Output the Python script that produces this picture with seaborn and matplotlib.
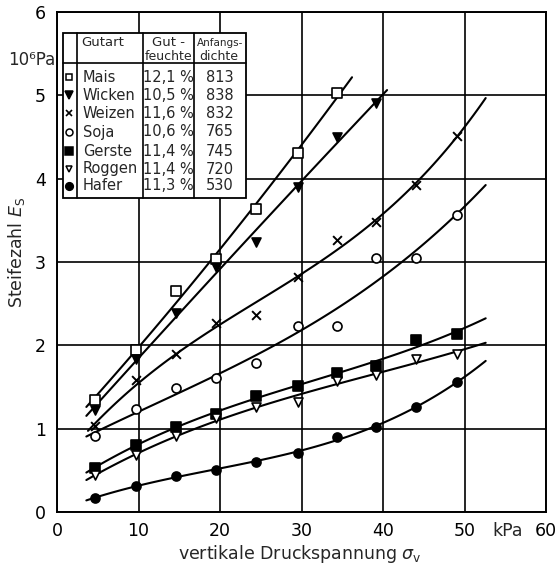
import numpy as np
import pandas as pd
import seaborn as sns
import matplotlib
matplotlib.use("Agg")
import matplotlib.pyplot as plt
from matplotlib.patches import Rectangle

# ---- data ----
sigma = [4.7, 9.7, 14.6, 19.5, 24.4, 29.6, 34.4, 39.1, 44.1, 49.1]
mais = [1.34, 1.94, 2.65, 3.04, 3.64, 4.31, 5.03]
wicken = [1.23, 1.84, 2.39, 2.94, 3.24, 3.90, 4.50, 4.91]
weizen = [1.03, 1.58, 1.90, 2.27, 2.37, 2.82, 3.27, 3.48, 3.93, 4.51]
soja = [0.91, 1.24, 1.49, 1.61, 1.79, 2.23, 2.23, 3.05, 3.05, 3.57]
gerste = [0.53, 0.81, 1.02, 1.18, 1.39, 1.51, 1.67, 1.75, 2.06, 2.14]
roggen = [0.44, 0.69, 0.91, 1.13, 1.26, 1.32, 1.57, 1.65, 1.84, 1.90]
hafer = [0.17, 0.31, 0.43, 0.51, 0.60, 0.71, 0.90, 1.02, 1.26, 1.56]

names = ["Mais", "Wicken", "Weizen", "Soja", "Gerste", "Roggen", "Hafer"]
feuchte = ["12,1 %", "10,5 %", "11,6 %", "10,6 %", "11,4 %", "11,4 %", "11,3 %"]
dichte = ["813", "838", "832", "765", "745", "720", "530"]
curve_start = [3.6, 3.6, 3.8, 3.6, 3.6, 3.6, 3.6]
curve_end = [36.2, 40.5, 52.6, 52.6, 52.6, 52.6, 52.6]
fit_order = [2, 2, 3, 3, 3, 3, 3]

x_ticks = [0, 10, 20, 30, 40, 50, 60]
y_ticks = [0, 1, 2, 3, 4, 5, 6]

series = [mais, wicken, weizen, soja, gerste, roggen, hafer]
markers = ["s", "v", "x", "o", "s", "v", "o"]
filled = [False, True, True, False, True, False, True]

sns.set_theme(style="white")
plt.rcParams["font.family"] = ["DejaVu Sans"]
plt.rcParams["mathtext.fontset"] = "dejavusans"

fig = plt.figure(figsize=(5.6, 5.71), dpi=100)
ax = fig.add_axes([57 / 560, 1 - 512 / 571, 489 / 560, 500 / 571])

# fitted curves
for vals, x0, x1, od in zip(series, curve_start, curve_end, fit_order):
    df = pd.DataFrame({"x": sigma[:len(vals)], "y": vals})
    ax.set_xlim(x0, x1)
    sns.regplot(data=df, x="x", y="y", order=od, ci=None, scatter=False,
                truncate=False, ax=ax,
                line_kws=dict(color="black", lw=1.5, zorder=3))

# data points
for vals, m, f in zip(series, markers, filled):
    df = pd.DataFrame({"x": sigma[:len(vals)], "y": vals})
    if m == "x":
        sns.scatterplot(data=df, x="x", y="y", marker="x", color="black",
                        s=40, linewidth=1.4, ax=ax, zorder=4)
    else:
        sns.scatterplot(data=df, x="x", y="y", marker=m,
                        facecolor="black" if f else "white",
                        edgecolor="black", linewidth=1.2, s=42, ax=ax, zorder=4)

ax.set_xlim(0, 60)
ax.set_ylim(0, 6)
ax.set_xticks(x_ticks)
ax.set_xticklabels([str(t) for t in x_ticks])
ax.set_yticks(y_ticks)
ax.set_yticklabels([str(t) for t in y_ticks])
ax.tick_params(axis="both", length=0, labelsize=12.5, colors="black")
ax.tick_params(axis="x", pad=7)
ax.tick_params(axis="y", pad=8)
ax.grid(True, color="black", lw=1.2)
ax.set_axisbelow(True)
for sp in ax.spines.values():
    sp.set_color("black")
    sp.set_linewidth(1.4)
ax.set_xlabel("")
ax.set_ylabel("")

ax.text(55.3, -0.02, "kPa", transform=ax.get_xaxis_transform(),
        ha="center", va="top", fontsize=12.5)
ax.text(-0.003, (512 - 60) / 500, "10\u2076Pa", transform=ax.transAxes,
        ha="right", va="center", fontsize=12)
fig.text(17 / 560, 1 - 252 / 571, r"Steifezahl $E_\mathrm{S}$", rotation=90,
         ha="center", va="center", fontsize=12.5)
fig.text(300 / 560, 1 - 554 / 571, r"vertikale Druckspannung $\sigma_\mathrm{v}$",
         ha="center", va="center", fontsize=12.5)

# legend table
T = ax.transAxes
bl, br, bt, bb = 0.0117, 0.3865, 0.958, 0.628
ax.add_patch(Rectangle((bl, bb), br - bl, bt - bb, transform=T,
                       facecolor="white", edgecolor="black", lw=1.3, zorder=10))
for cx in [0.0409, 0.1759, 0.2802]:
    ax.plot([cx, cx], [bb, bt], transform=T, color="black", lw=1.2, zorder=11)
ax.plot([bl, br], [0.898, 0.898], transform=T, color="black", lw=1.2, zorder=11)

ax.text(0.0505, 0.938, "Gutart", transform=T, ha="left", va="center",
        fontsize=9.5, zorder=12)
ax.text(0.228, 0.938, "Gut -", transform=T, ha="center", va="center",
        fontsize=9.5, zorder=12)
ax.text(0.228, 0.91, "feuchte", transform=T, ha="center", va="center",
        fontsize=9, zorder=12)
ax.text(0.333, 0.938, "Anfangs-", transform=T, ha="center", va="center",
        fontsize=7.5, zorder=12)
ax.text(0.33, 0.91, "dichte", transform=T, ha="center", va="center",
        fontsize=9, zorder=12)

row_y = [0.870, 0.834, 0.798, 0.760, 0.722, 0.686, 0.652]
for ry, n, fe, de, m, f in zip(row_y, names, feuchte, dichte, markers, filled):
    if m == "x":
        ax.plot([0.0236], [ry], transform=T, marker="x", color="black",
                ms=5, mew=1.2, zorder=12)
    else:
        ax.plot([0.0236], [ry], transform=T, marker=m, ms=5.5 if f else 5,
                mfc="black" if f else "white", mec="black", mew=1.1, zorder=12)
    ax.text(0.0526, ry, n, transform=T, ha="left", va="center",
            fontsize=10.5, zorder=12)
    ax.text(0.228, ry, fe, transform=T, ha="center", va="center",
            fontsize=10.5, zorder=12)
    ax.text(0.333, ry, de, transform=T, ha="center", va="center",
            fontsize=10.5, zorder=12)

fig.savefig("out.png", dpi=100)
